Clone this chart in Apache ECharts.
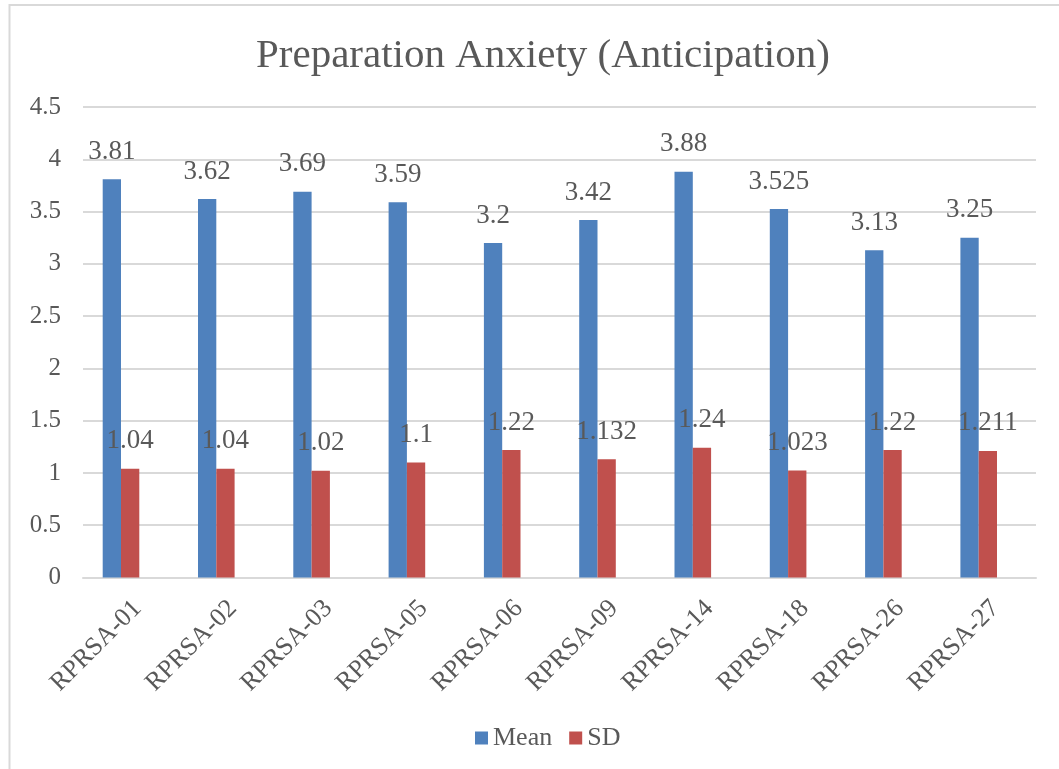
<!DOCTYPE html>
<html>
<head>
<meta charset="utf-8">
<title>Preparation Anxiety (Anticipation)</title>
<script src="https://cdn.jsdelivr.net/npm/echarts@6/dist/echarts.min.js"></script>
<style>
  html, body { margin: 0; padding: 0; background: #ffffff; }
  #chart { width: 1059px; height: 769px; }
</style>
</head>
<body>
<div id="chart"></div>
<script>
// Items of the anticipation scale
const categories = ['RPRSA-01', 'RPRSA-02', 'RPRSA-03', 'RPRSA-05', 'RPRSA-06',
                    'RPRSA-09', 'RPRSA-14', 'RPRSA-18', 'RPRSA-26', 'RPRSA-27'];
// Mean score per item
const meanValues = [3.81, 3.62, 3.69, 3.59, 3.2, 3.42, 3.88, 3.525, 3.13, 3.25];
// Standard deviation per item
const sdValues = [1.04, 1.04, 1.02, 1.1, 1.22, 1.132, 1.24, 1.023, 1.22, 1.211];
// Value axis range and step
const yMin = 0;
const yMax = 4.5;
const yStep = 0.5;

const FONT = '"Liberation Serif", "Times New Roman", serif';
const TEXT = '#595959';
const GRID_TOP = 107;
const GRID_BOTTOM = 191.5;
const PLOT_W = 953;

const valueAxisHidden = (gi) => ({
  type: 'value', gridIndex: gi, min: yMin, max: yMax, interval: yStep,
  show: false, splitLine: { show: false }
});

const labelStyle = {
  show: true, position: 'top', distance: 14,
  color: TEXT, fontFamily: FONT, fontSize: 27
};

const chart = echarts.init(document.getElementById('chart'), null, { renderer: 'canvas' });

chart.setOption({
  backgroundColor: '#ffffff',
  animation: false,
  title: {
    text: 'Preparation Anxiety (Anticipation)',
    left: 251, top: 31,
    textStyle: { color: TEXT, fontFamily: FONT, fontSize: 41, fontWeight: 'normal' }
  },
  legend: {
    left: 470, top: 720,
    icon: 'rect', itemWidth: 13, itemHeight: 13, itemGap: 17,
    textStyle: { color: TEXT, fontFamily: FONT, fontSize: 26 },
    data: ['Mean', 'SD']
  },
  grid: [
    // bars
    { left: 73.35, width: PLOT_W, top: GRID_TOP, bottom: GRID_BOTTOM },
    // gridlines, value labels, baseline
    { left: 83, width: PLOT_W, top: GRID_TOP, bottom: GRID_BOTTOM },
    // rotated category labels
    { left: 90, width: PLOT_W, top: GRID_TOP, bottom: GRID_BOTTOM }
  ],
  xAxis: [
    { type: 'category', gridIndex: 0, data: categories, show: false },
    {
      type: 'category', gridIndex: 1, data: categories,
      axisLine: { show: true, lineStyle: { color: '#d9d9d9', width: 2 } },
      axisTick: { show: false }, axisLabel: { show: false }
    },
    {
      type: 'category', gridIndex: 2, data: categories,
      axisLine: { show: false }, axisTick: { show: false },
      axisLabel: {
        interval: 0, rotate: 45, margin: 27,
        color: TEXT, fontFamily: FONT, fontSize: 26
      }
    }
  ],
  yAxis: [
    valueAxisHidden(0),
    {
      type: 'value', gridIndex: 1, min: yMin, max: yMax, interval: yStep,
      axisLine: { show: false }, axisTick: { show: false },
      axisLabel: { margin: 22, color: TEXT, fontFamily: FONT, fontSize: 25 },
      splitLine: { show: true, lineStyle: { color: '#d9d9d9', width: 2 } }
    },
    valueAxisHidden(2)
  ],
  series: [
    {
      name: 'Mean', type: 'bar', xAxisIndex: 0, yAxisIndex: 0,
      data: meanValues, barWidth: 18.3, barGap: '0%',
      itemStyle: { color: '#4f81bd' },
      label: labelStyle
    },
    {
      name: 'SD', type: 'bar', xAxisIndex: 0, yAxisIndex: 0,
      data: sdValues, barWidth: 18.3, barGap: '0%',
      itemStyle: { color: '#c0504d' },
      label: labelStyle
    }
  ],
  graphic: [
    {
      // chart frame (top and left edges fall inside the page)
      type: 'rect', silent: true, z: -1,
      shape: { x: 9.5, y: 5, width: 1100, height: 800 },
      style: { fill: 'none', stroke: '#d9d9d9', lineWidth: 2 }
    }
  ]
});
</script>
</body>
</html>
